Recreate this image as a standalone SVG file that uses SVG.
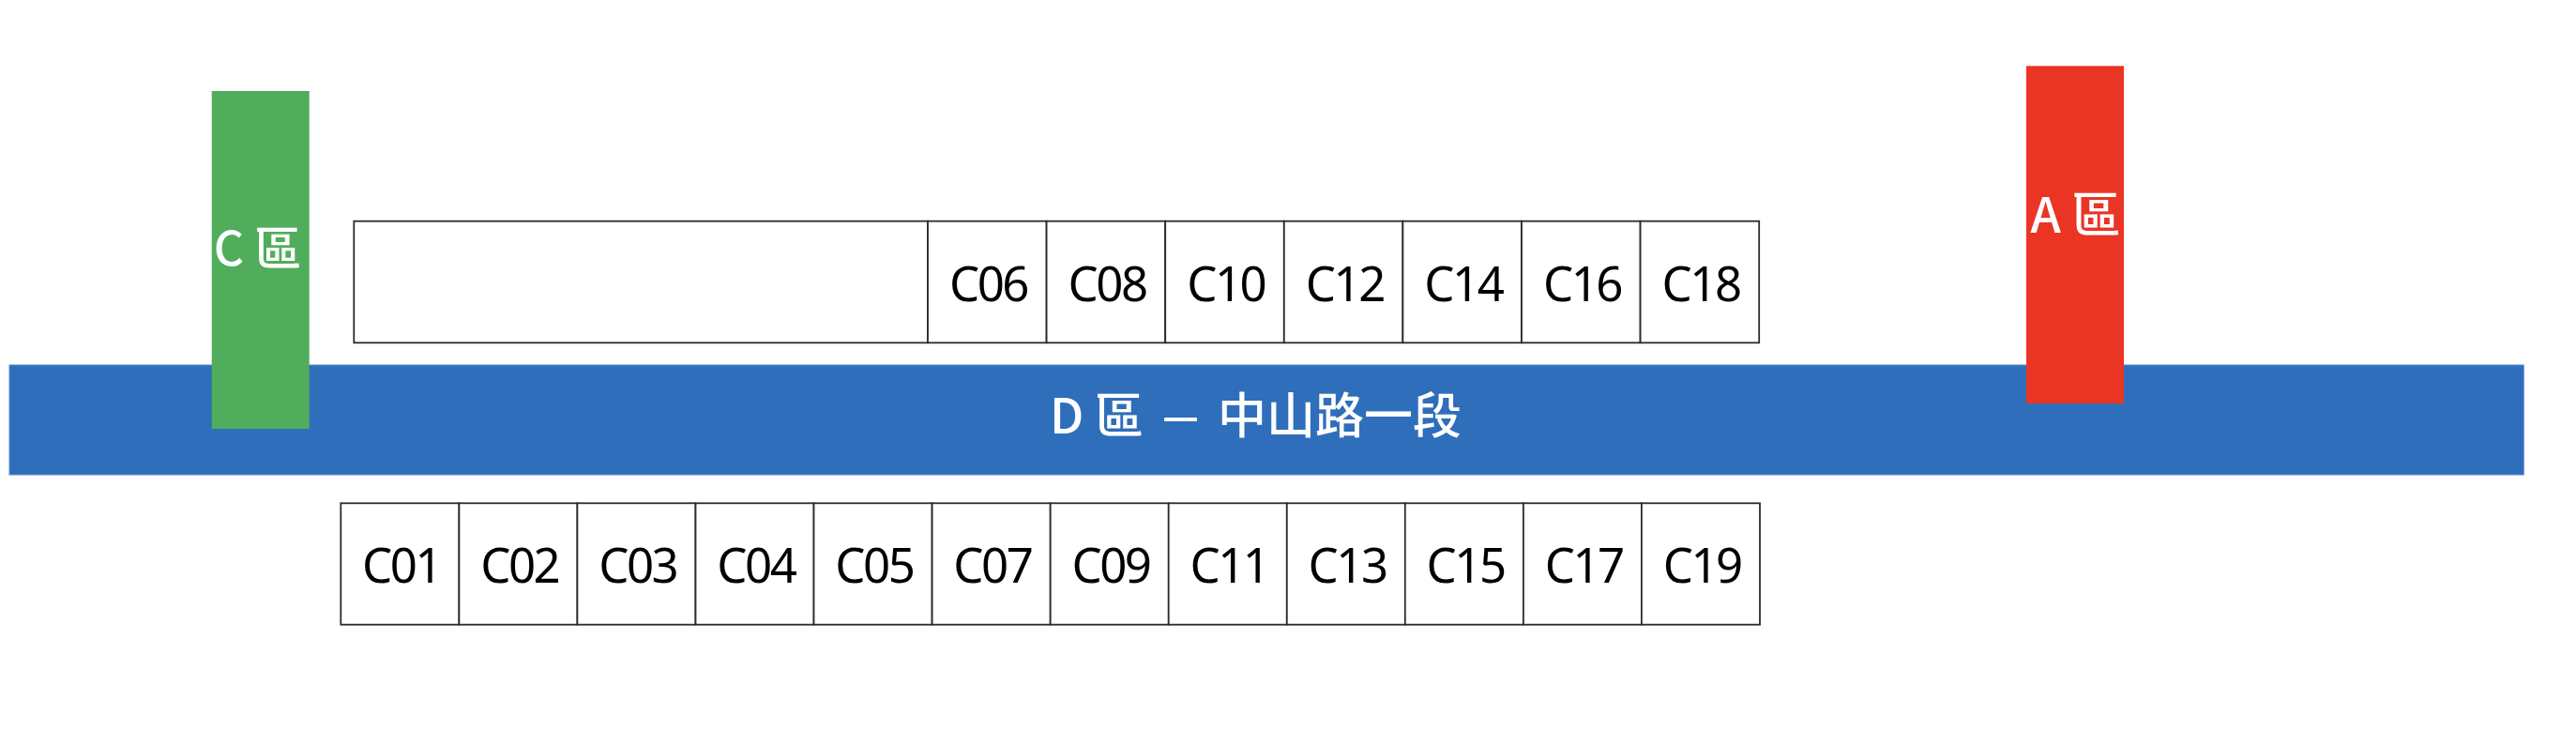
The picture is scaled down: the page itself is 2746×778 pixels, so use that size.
<svg xmlns="http://www.w3.org/2000/svg" width="2746" height="778" viewBox="0 0 2746 778">
<style>
.cell{fill:#ffffff;stroke:#2b2b2b;stroke-width:1.8}
.lbl{font-family:"Noto Sans","Open Sans",sans-serif;font-size:51px;fill:#000000;text-anchor:middle;letter-spacing:-2.5px}
.zone{font-family:"Noto Sans CJK TC","Noto Sans CJK SC",sans-serif;fill:#ffffff;font-size:52px;font-weight:500}
</style>
<rect width="2746" height="778" fill="#ffffff"/>
<g id="D">
<rect x="10" y="389" width="2680.3" height="117" fill="#2F6EBA" stroke="#5C8ED0" stroke-width="1"/>
<text class="zone" y="462.3"><tspan x="1119">D 區</tspan><tspan x="1298">中山路一段</tspan></text>
<text class="zone" transform="translate(1258.5 462.3) scale(1.5 1)" text-anchor="middle">–</text>
</g>
<g id="C">
<rect x="225.7" y="97" width="104" height="360" fill="#50AD5B"/>
<text class="zone" x="274.5" y="282.7" text-anchor="middle" style="font-size:50px">C 區</text>
</g>
<g id="A">
<rect x="2160" y="70.3" width="104" height="359.7" fill="#EA3424"/>
<text class="zone" x="2212.5" y="248" text-anchor="middle">A 區</text>
</g>
<g id="top-blank"><rect class="cell" x="377.3" y="235.7" width="611.7" height="129.6"/></g>
<g id="C06"><rect class="cell" x="989" y="235.7" width="126.6" height="129.6"/><text class="lbl" x="1053.5" y="320.7">C06</text></g>
<g id="C08"><rect class="cell" x="1115.6" y="235.7" width="126.6" height="129.6"/><text class="lbl" x="1180.1" y="320.7">C08</text></g>
<g id="C10"><rect class="cell" x="1242.2" y="235.7" width="126.6" height="129.6"/><text class="lbl" x="1306.7" y="320.7">C10</text></g>
<g id="C12"><rect class="cell" x="1368.8" y="235.7" width="126.6" height="129.6"/><text class="lbl" x="1433.3" y="320.7">C12</text></g>
<g id="C14"><rect class="cell" x="1495.4" y="235.7" width="126.6" height="129.6"/><text class="lbl" x="1559.9" y="320.7">C14</text></g>
<g id="C16"><rect class="cell" x="1622" y="235.7" width="126.6" height="129.6"/><text class="lbl" x="1686.5" y="320.7">C16</text></g>
<g id="C18"><rect class="cell" x="1748.6" y="235.7" width="126.6" height="129.6"/><text class="lbl" x="1813.1" y="320.7">C18</text></g>
<g id="C01"><rect class="cell" x="363.3" y="536.3" width="126.1" height="129.4"/><text class="lbl" x="427.6" y="620.7">C01</text></g>
<g id="C02"><rect class="cell" x="489.4" y="536.3" width="126.1" height="129.4"/><text class="lbl" x="553.7" y="620.7">C02</text></g>
<g id="C03"><rect class="cell" x="615.4" y="536.3" width="126.1" height="129.4"/><text class="lbl" x="679.7" y="620.7">C03</text></g>
<g id="C04"><rect class="cell" x="741.5" y="536.3" width="126.1" height="129.4"/><text class="lbl" x="805.8" y="620.7">C04</text></g>
<g id="C05"><rect class="cell" x="867.5" y="536.3" width="126.1" height="129.4"/><text class="lbl" x="931.8" y="620.7">C05</text></g>
<g id="C07"><rect class="cell" x="993.6" y="536.3" width="126.1" height="129.4"/><text class="lbl" x="1057.9" y="620.7">C07</text></g>
<g id="C09"><rect class="cell" x="1119.7" y="536.3" width="126.1" height="129.4"/><text class="lbl" x="1184" y="620.7">C09</text></g>
<g id="C11"><rect class="cell" x="1245.7" y="536.3" width="126.1" height="129.4"/><text class="lbl" x="1310" y="620.7">C11</text></g>
<g id="C13"><rect class="cell" x="1371.8" y="536.3" width="126.1" height="129.4"/><text class="lbl" x="1436.1" y="620.7">C13</text></g>
<g id="C15"><rect class="cell" x="1497.8" y="536.3" width="126.1" height="129.4"/><text class="lbl" x="1562.1" y="620.7">C15</text></g>
<g id="C17"><rect class="cell" x="1623.9" y="536.3" width="126.1" height="129.4"/><text class="lbl" x="1688.2" y="620.7">C17</text></g>
<g id="C19"><rect class="cell" x="1749.9" y="536.3" width="126.1" height="129.4"/><text class="lbl" x="1814.2" y="620.7">C19</text></g>
<g id="connectors"/>
</svg>
